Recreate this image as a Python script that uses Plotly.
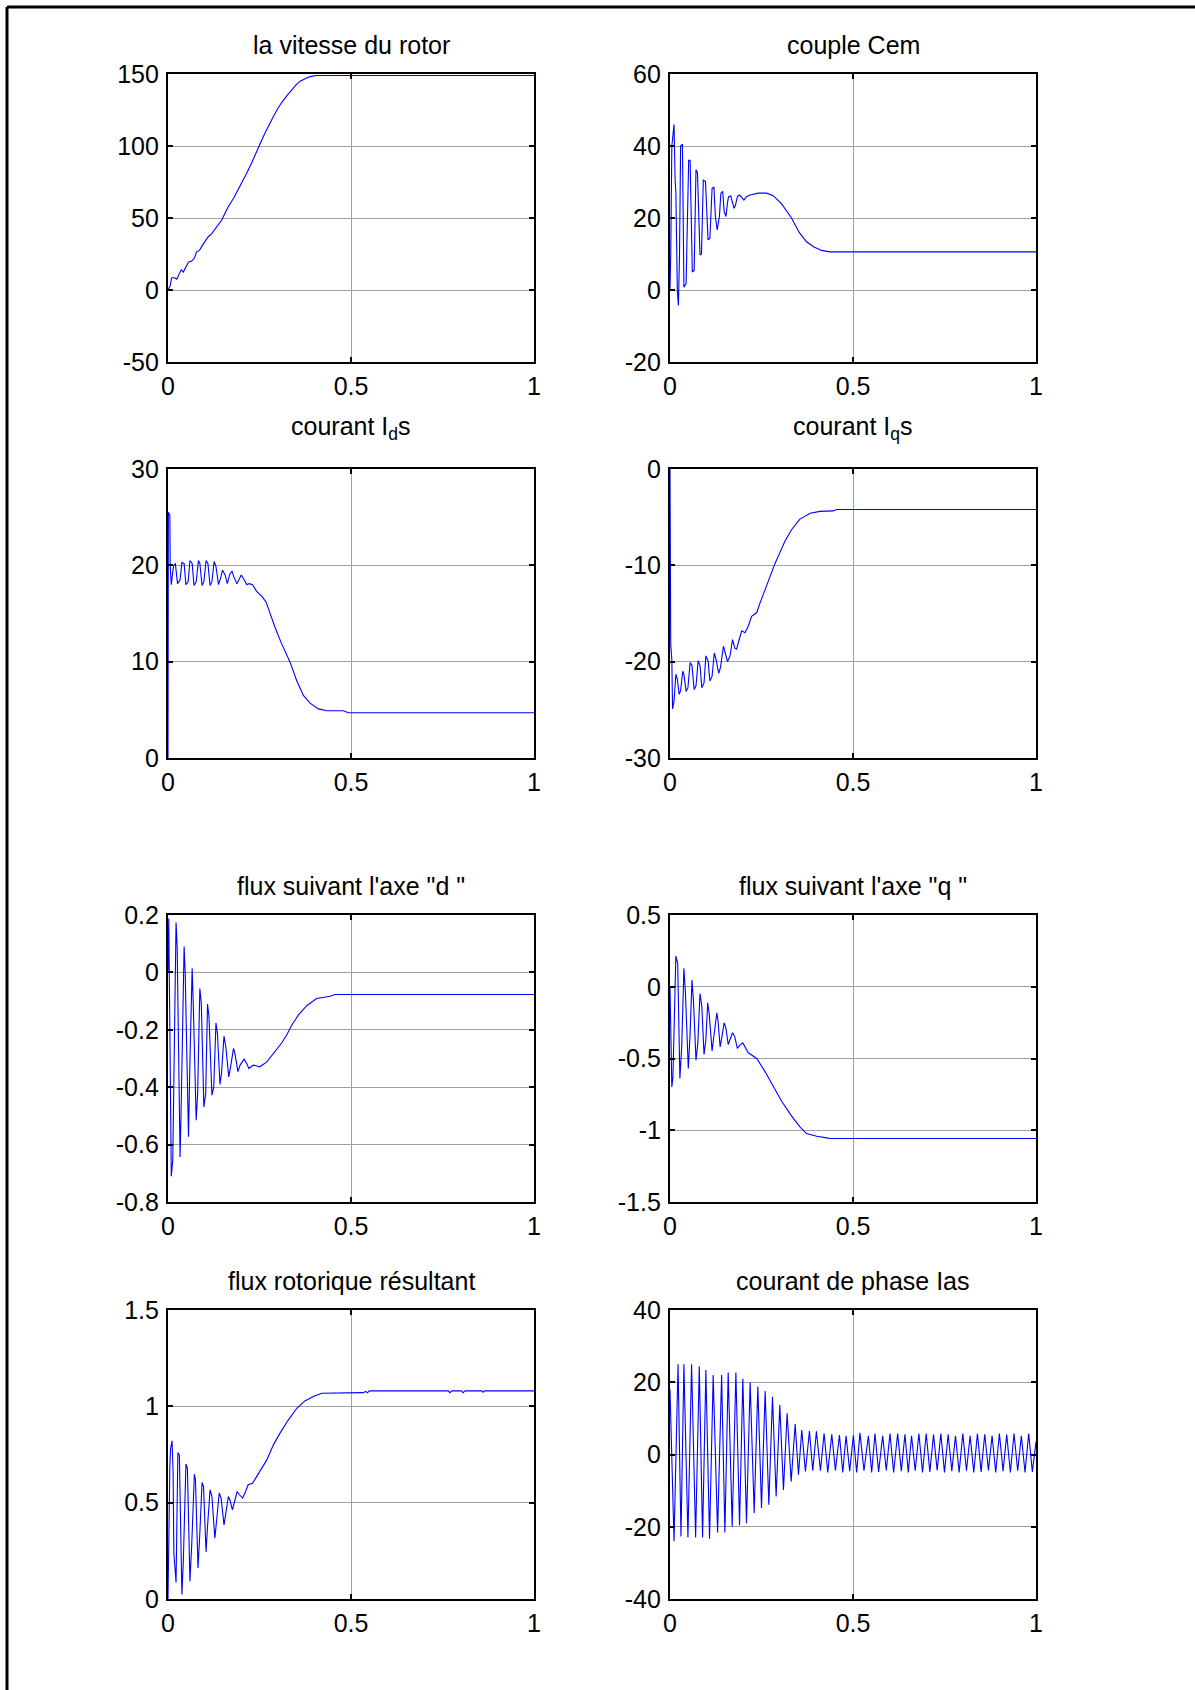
import plotly.graph_objects as go

# ---------------- data (time in s) ----------------
# rotor speed
vitesse_t = [0, 0.006, 0.01, 0.018, 0.024, 0.03, 0.036, 0.042, 0.05, 0.056, 0.064, 0.072,
             0.078, 0.086, 0.094, 0.1, 0.11, 0.119, 0.13, 0.147, 0.155, 0.165, 0.18, 0.197,
             0.215, 0.23, 0.247, 0.256, 0.265, 0.276, 0.288, 0.3, 0.31, 0.325, 0.338, 0.35,
             0.361, 0.372, 0.383, 0.395, 0.406, 0.42, 1.0]
vitesse_v = [0, 3, 8.5, 8.5, 7.5, 11, 14, 12.5, 16, 19.5, 20, 22,
             26.5, 27.5, 31, 33.5, 37, 39, 43, 48.6, 53, 58, 64, 72,
             81, 89, 99.7, 104, 109, 115, 120.5, 126, 130, 135, 139, 142.5,
             145, 146.5, 147.7, 148.5, 149, 149, 149]

# electromagnetic torque
cem_t = [0, 0.002, 0.005, 0.011, 0.014, 0.016, 0.02, 0.023, 0.026, 0.029, 0.034,
         0.038, 0.044, 0.047, 0.051, 0.055, 0.061, 0.066, 0.071, 0.075, 0.078, 0.082,
         0.086, 0.091, 0.097, 0.1, 0.104, 0.109, 0.115, 0.12, 0.124, 0.129, 0.135,
         0.139, 0.144, 0.148, 0.153, 0.157, 0.16, 0.166, 0.171, 0.175, 0.179, 0.184,
         0.189, 0.195, 0.202, 0.209, 0.219, 0.241, 0.264, 0.282, 0.305, 0.332, 0.353,
         0.373, 0.392, 0.414, 0.437, 1.0]
cem_v = [0, 10, 40, 46, 30.6, 27.3, 0, -4.3, 10, 40, 40.5,
         0.8, 1.8, 16.6, 36, 36, 5, 5.5, 33.4, 32.5, 21.5, 9.7,
         10, 30.6, 30.1, 22, 13.9, 14.4, 28.3, 28.5, 20.4, 16.7, 20.4,
         26.9, 27.4, 21.8, 20.4, 24.2, 25.9, 26.1, 24.5, 22.7, 23.6, 25.9,
         26.4, 25.9, 25, 25.9, 26.4, 26.9, 26.9, 26.2, 23.9, 20, 16,
         13.4, 12, 11, 10.6, 10.6]

# stator current, d axis
ids_t = [0, 0.001, 0.005, 0.006, 0.009, 0.015, 0.02, 0.026, 0.033, 0.038, 0.044,
         0.049, 0.055, 0.06, 0.066, 0.071, 0.077, 0.083, 0.087, 0.093, 0.098, 0.104,
         0.109, 0.115, 0.12, 0.126, 0.131, 0.138, 0.144, 0.149, 0.156, 0.162, 0.169,
         0.175, 0.18, 0.188, 0.195, 0.2, 0.208, 0.215, 0.222, 0.231, 0.242, 0.256,
         0.268, 0.279, 0.292, 0.31, 0.333, 0.352, 0.37, 0.388, 0.411, 0.434, 0.479,
         0.493, 1.0]
ids_v = [0, 25.5, 25.2, 20, 18, 19.9, 20.2, 18.1, 18.5, 20.3, 20.2,
         18, 18.3, 20.5, 20.2, 17.9, 18.3, 20.5, 20.2, 17.9, 18.3, 20.5,
         20.2, 17.9, 18.3, 20.4, 19.9, 18, 18.7, 19.5, 19, 18.1, 19.1,
         19.4, 18.8, 18.1, 18.6, 19, 18.5, 18, 18.1, 18, 17.3, 16.8,
         16.2, 15, 13.6, 11.9, 10, 8, 6.5, 5.7, 5.1, 4.9, 4.9,
         4.7, 4.7]

# stator current, q axis
iqs_t = [0, 0.002, 0.005, 0.007, 0.011, 0.016, 0.02, 0.025, 0.029, 0.035, 0.038,
         0.044, 0.049, 0.055, 0.06, 0.066, 0.071, 0.077, 0.082, 0.087, 0.093, 0.098,
         0.104, 0.109, 0.115, 0.121, 0.126, 0.133, 0.138, 0.146, 0.151, 0.157, 0.164,
         0.171, 0.177, 0.182, 0.189, 0.196, 0.205, 0.214, 0.223, 0.237, 0.246, 0.255,
         0.264, 0.273, 0.287, 0.301, 0.314, 0.332, 0.355, 0.383, 0.41, 0.446, 0.455,
         1.0]
iqs_v = [0, -18.2, -19.8, -24.9, -24.1, -21.3, -21.8, -23.4, -23.0, -21, -21.3,
         -23.1, -22.7, -20.1, -20.4, -22.9, -22.5, -19.9, -20.4, -22.7, -22.2, -19.4,
         -19.9, -22, -21.5, -19.1, -19.8, -21.2, -20.6, -18.4, -19.1, -20, -19.4,
         -17.7, -18.6, -18.7, -17.7, -16.8, -17, -16.3, -15.3, -14.9, -13.9, -13,
         -12, -11, -9.8, -8.6, -7.5, -6.3, -5.2, -4.6, -4.4, -4.35, -4.2,
         -4.2]

# rotor flux, d axis
phid_t = [0, 0.002, 0.005, 0.009, 0.013, 0.016, 0.022, 0.025, 0.029, 0.033, 0.036,
          0.044, 0.047, 0.051, 0.056, 0.06, 0.066, 0.069, 0.077, 0.081, 0.087, 0.091,
          0.098, 0.103, 0.108, 0.112, 0.12, 0.125, 0.131, 0.135, 0.142, 0.146, 0.153,
          0.158, 0.166, 0.171, 0.179, 0.183, 0.191, 0.197, 0.208, 0.215, 0.221, 0.233,
          0.251, 0.27, 0.292, 0.311, 0.324, 0.338, 0.356, 0.379, 0.406, 0.443, 0.456,
          1.0]
phid_v = [0, 0.188, -0.19, -0.71, -0.655, -0.35, 0.174, 0.09, -0.35, -0.643, -0.47,
          0.09, -0.003, -0.306, -0.573, -0.306, 0.014, -0.108, -0.515, -0.422, -0.056, -0.108,
          -0.469, -0.422, -0.11, -0.154, -0.428, -0.399, -0.176, -0.213, -0.39, -0.353, -0.222,
          -0.26, -0.364, -0.329, -0.265, -0.283, -0.346, -0.323, -0.302, -0.317, -0.335, -0.323,
          -0.329, -0.312, -0.277, -0.245, -0.219, -0.184, -0.149, -0.116, -0.091, -0.083, -0.077,
          -0.077]

# rotor flux, q axis
phiq_t = [0, 0.002, 0.005, 0.008, 0.012, 0.016, 0.021, 0.024, 0.027, 0.032, 0.038,
          0.042, 0.046, 0.05, 0.055, 0.06, 0.064, 0.071, 0.076, 0.082, 0.087, 0.093,
          0.098, 0.103, 0.107, 0.115, 0.119, 0.128, 0.131, 0.137, 0.141, 0.148, 0.153,
          0.159, 0.165, 0.171, 0.177, 0.184, 0.191, 0.199, 0.214, 0.237, 0.26, 0.282,
          0.305, 0.332, 0.355, 0.373, 0.401, 0.428, 0.437, 1.0]
phiq_v = [0, -0.302, -0.698, -0.628, -0.163, 0.214, 0.163, -0.186, -0.64, -0.419, 0.128,
          -0.035, -0.279, -0.57, -0.326, 0.047, -0.093, -0.512, -0.395, -0.047, -0.14, -0.472,
          -0.372, -0.112, -0.186, -0.447, -0.361, -0.181, -0.233, -0.419, -0.361, -0.251, -0.291,
          -0.402, -0.361, -0.321, -0.349, -0.43, -0.407, -0.391, -0.46, -0.5, -0.593, -0.698,
          -0.798, -0.9, -0.977, -1.023, -1.042, -1.053, -1.058, -1.058]

# resulting rotor flux
phir_t = [0, 0.002, 0.005, 0.007, 0.011, 0.014, 0.016, 0.022, 0.025, 0.027, 0.031,
          0.035, 0.038, 0.042, 0.046, 0.049, 0.053, 0.06, 0.065, 0.072, 0.075, 0.082,
          0.087, 0.093, 0.097, 0.104, 0.108, 0.115, 0.12, 0.128, 0.133, 0.14, 0.145,
          0.153, 0.158, 0.165, 0.169, 0.176, 0.182, 0.189, 0.195, 0.204, 0.212, 0.219,
          0.231, 0.251, 0.27, 0.288, 0.306, 0.329, 0.352, 0.374, 0.397, 0.42, 0.534,
          0.54, 0.545, 0.55, 0.766, 0.77, 0.776, 0.802, 0.806, 0.812, 0.857, 0.861,
          0.865, 1.0]
phir_v = [0, 0.377, 0.688, 0.778, 0.821, 0.653, 0.239, 0.086, 0.515, 0.76, 0.748,
          0.377, 0.023, 0.204, 0.498, 0.7, 0.679, 0.092, 0.29, 0.648, 0.619, 0.161,
          0.342, 0.605, 0.584, 0.244, 0.377, 0.567, 0.532, 0.316, 0.411, 0.55, 0.524,
          0.385, 0.446, 0.532, 0.515, 0.463, 0.506, 0.558, 0.541, 0.524, 0.558, 0.593,
          0.601, 0.662, 0.722, 0.8, 0.861, 0.93, 0.99, 1.028, 1.051, 1.068, 1.071,
          1.078, 1.07, 1.08, 1.08, 1.071, 1.08, 1.08, 1.071, 1.08, 1.08, 1.073,
          1.08, 1.08]

# phase current ias: start value, alternating troughs / crests, end value
ias_start = 18
ias_end_t, ias_end_v = 1.0, 3.5
ias_trough_t = [0.011, 0.03, 0.049, 0.07, 0.089, 0.108, 0.13, 0.15, 0.17, 0.19,
                0.209, 0.23, 0.25, 0.27, 0.29, 0.31, 0.331, 0.351, 0.37, 0.39,
                0.411, 0.431, 0.452, 0.472, 0.491, 0.51, 0.53, 0.551, 0.57, 0.591,
                0.611, 0.632, 0.651, 0.67, 0.69, 0.71, 0.73, 0.75, 0.77, 0.79,
                0.81, 0.83, 0.85, 0.87, 0.89, 0.91, 0.93, 0.95, 0.97, 0.99]
ias_trough_v = [-24, -22.7, -23, -23, -23, -23.3, -21.6, -21.6, -20, -19.6,
                -19, -16.2, -14.8, -13.9, -11.6, -9.8, -7.5, -5.6, -4.7, -4.5,
                -4.5, -5, -4.4, -5, -4.6, -5, -4.5, -5, -4.8, -4.4,
                -5, -4.6, -5, -4.5, -5, -4.8, -4.4, -5, -4.6, -5,
                -4.5, -5, -4.8, -4.4, -5, -4.6, -5, -4.5, -5, -4.8]
ias_crest_t = [0.022, 0.038, 0.059, 0.08, 0.098, 0.118, 0.141, 0.159, 0.18, 0.199,
               0.219, 0.24, 0.26, 0.28, 0.3, 0.32, 0.342, 0.36, 0.381, 0.4,
               0.421, 0.442, 0.463, 0.481, 0.501, 0.519, 0.542, 0.56, 0.581, 0.601,
               0.622, 0.642, 0.66, 0.68, 0.7, 0.72, 0.74, 0.76, 0.78, 0.8,
               0.82, 0.84, 0.86, 0.88, 0.9, 0.92, 0.94, 0.96, 0.98]
ias_crest_v = [25, 25, 25, 24.4, 23.4, 22, 22, 22.7, 22.7, 21,
               20, 18.8, 17.6, 16, 13.7, 11.4, 8.4, 6.8, 6.5, 6.4,
               5.9, 5.6, 5.4, 5.2, 5.3, 6, 5.2, 5.8, 5.2, 5.8,
               5.8, 5.6, 5.2, 5.8, 5.8, 5.5, 5.8, 5.6, 5.2, 5.8,
               5.2, 5.8, 5.6, 5.2, 5.8, 5.5, 5.8, 5.2, 5.8]

ias_t = [0.0]
ias_v = [ias_start]
for i in range(len(ias_trough_t)):
    ias_t.append(ias_trough_t[i])
    ias_v.append(ias_trough_v[i])
    if i < len(ias_crest_t):
        ias_t.append(ias_crest_t[i])
        ias_v.append(ias_crest_v[i])
ias_t.append(ias_end_t)
ias_v.append(ias_end_v)

# titles, y ranges and tick values per panel
titles = ["la vitesse du rotor", "couple Cem",
          "courant I<sub>d</sub>s", "courant I<sub>q</sub>s",
          "flux suivant l'axe \"d \"", "flux suivant l'axe \"q \"",
          "flux rotorique résultant", "courant de phase Ias"]
y_ticks = [[-50, 0, 50, 100, 150], [-20, 0, 20, 40, 60],
           [0, 10, 20, 30], [-30, -20, -10, 0],
           [-0.8, -0.6, -0.4, -0.2, 0, 0.2], [-1.5, -1, -0.5, 0, 0.5],
           [0, 0.5, 1, 1.5], [-40, -20, 0, 20, 40]]
y_ticktext = [["-50", "0", "50", "100", "150"], ["-20", "0", "20", "40", "60"],
              ["0", "10", "20", "30"], ["-30", "-20", "-10", "0"],
              ["-0.8", "-0.6", "-0.4", "-0.2", "0", "0.2"], ["-1.5", "-1", "-0.5", "0", "0.5"],
              ["0", "0.5", "1", "1.5"], ["-40", "-20", "0", "20", "40"]]
x_ticks = [0, 0.5, 1]
x_ticktext = ["0", "0.5", "1"]

series = [(vitesse_t, vitesse_v), (cem_t, cem_v), (ids_t, ids_v), (iqs_t, iqs_v),
          (phid_t, phid_v), (phiq_t, phiq_v), (phir_t, phir_v), (ias_t, ias_v)]

# ---------------- layout geometry (pixels) ----------------
W, H = 1195, 1690
cols_px = [(168, 534), (670, 1036)]
rows_px = [(74, 362), (469, 758), (915, 1202), (1310, 1599)]
title_y_px = [45, 428, 886, 1281]

FONT = "Liberation Sans, Arial, sans-serif"
fig = go.Figure()
layout = dict(
    width=W, height=H, autosize=False,
    margin=dict(l=0, r=0, t=0, b=0, pad=0, autoexpand=False),
    paper_bgcolor="white", plot_bgcolor="white",
    showlegend=False,
    font=dict(family=FONT, size=25, color="black"),
)
annotations = []
for k in range(8):
    r, c = divmod(k, 2)
    x0, x1 = cols_px[c]
    top, bot = rows_px[r]
    n = "" if k == 0 else str(k + 1)
    t, v = series[k]
    fig.add_trace(go.Scatter(x=t, y=v, mode="lines", xaxis="x" + n, yaxis="y" + n,
                             line=dict(color="#0000ff", width=1.1), hoverinfo="skip"))
    common = dict(showline=True, linecolor="black", linewidth=2.2, mirror="ticks",
                  ticks="inside", ticklen=5, tickwidth=2, tickcolor="black",
                  showgrid=True, gridcolor="#a0a0a0", gridwidth=1, zeroline=False,
                  automargin=False,
                  tickfont=dict(family=FONT, size=25, color="black"), fixedrange=True)
    layout["xaxis" + n] = dict(common, domain=[x0 / W, x1 / W], anchor="y" + n,
                               range=[0, 1], tickmode="array", tickvals=x_ticks,
                               ticktext=x_ticktext, ticklabelstandoff=1)
    yt = y_ticks[k]
    layout["yaxis" + n] = dict(common, domain=[1 - bot / H, 1 - top / H], anchor="x" + n,
                               range=[yt[0], yt[-1]], tickmode="array", tickvals=yt,
                               ticktext=y_ticktext[k], ticklabelstandoff=2)
    annotations.append(dict(text=titles[k], x=(x0 + x1) / 2 / W, y=1 - title_y_px[r] / H,
                            xref="paper", yref="paper", xanchor="center", yanchor="middle",
                            showarrow=False, font=dict(family=FONT, size=25, color="black")))

layout["annotations"] = annotations
# page frame on the left and top edges
layout["shapes"] = [
    dict(type="line", xref="paper", yref="paper", x0=7 / W, x1=7 / W, y0=0, y1=1 - 7 / H,
         line=dict(color="black", width=3)),
    dict(type="line", xref="paper", yref="paper", x0=7 / W, x1=1, y0=1 - 7 / H, y1=1 - 7 / H,
         line=dict(color="black", width=3)),
]
fig.update_layout(**layout)
fig.write_html("out.html")
